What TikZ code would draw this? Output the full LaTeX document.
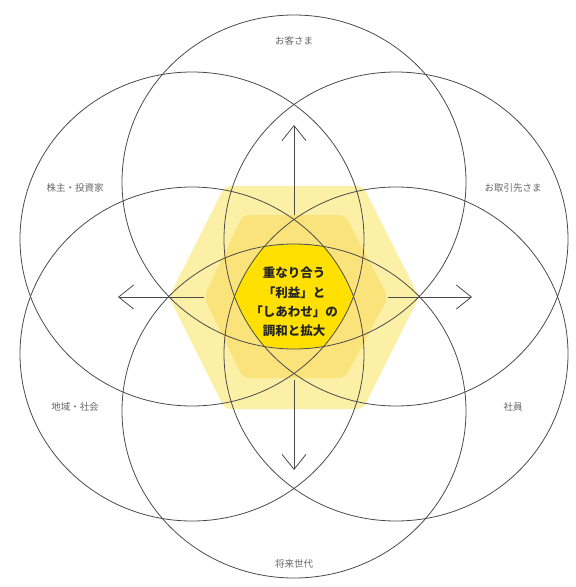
\documentclass[tikz,border=0pt]{standalone}
\usepackage{fontspec}
\setmainfont{Noto Sans CJK JP}
\usepackage{xcolor}
\usetikzlibrary{calc}
\usetikzlibrary{arrows.meta}
\definecolor{hexpale}{HTML}{FCF0A6}
\definecolor{hexmid}{HTML}{F9E37A}
\definecolor{hexcore}{HTML}{FFE000}
\definecolor{ringline}{HTML}{4A4A4A}
\definecolor{labelgray}{HTML}{666666}
\tikzset{
	ring/.style={draw=ringline, line width=0.8pt},
	party/.style={text=labelgray, font=\fontsize{9.5}{11}\selectfont, inner sep=1pt},
	growarrow/.style={draw=ringline, line width=0.8pt, -{Straight Barb[length=15pt, width=24pt, line width=0.8pt]}}
}
\newcommand{\ringpath}[1]{(#1) ellipse [x radius=172, y radius=167]}

\begin{document}
\begin{tikzpicture}[x=1pt, y=-1pt]
			\useasboundingbox (0,0) rectangle (576,587);
			\fill[white] (0,0) rectangle (576,587);

			\coordinate (c) at (294,297);
			\coordinate (rt) at (294,182);
			\coordinate (rb) at (294,411);
			\coordinate (rul) at (192,239);
			\coordinate (rll) at (192,354);
			\coordinate (rur) at (396,239);
			\coordinate (rlr) at (396,354);

			% yellow hexagons
			\fill[hexpale, rounded corners=6pt] (169,297) -- (225,186) -- (363,186) -- (419,297) -- (363,409) -- (225,409) -- cycle;
			\fill[hexmid, rounded corners=6pt] (204,297) -- (243,215) -- (345,215) -- (388,297) -- (345,378) -- (243,378) -- cycle;
			\begin{scope}
				\clip \ringpath{rt}; \clip \ringpath{rb};
				\clip \ringpath{rul}; \clip \ringpath{rll};
				\clip \ringpath{rur}; \clip \ringpath{rlr};
				\fill[hexcore] (150,150) rectangle (440,440);
			\end{scope}

			\foreach \r in {rt,rb,rul,rll,rur,rlr}
				\draw[ring] \ringpath{\r};

			% arrows
			\coordinate (up-s) at (294,215);   \coordinate (up-e) at (294,125);
			\coordinate (dn-s) at (294,380);   \coordinate (dn-e) at (294,470);
			\coordinate (lf-s) at (204,297);   \coordinate (lf-e) at (118,297);
			\coordinate (rg-s) at (388,297);   \coordinate (rg-e) at (472,297);
			\draw[growarrow] (up-s) -- (up-e);
			\draw[growarrow] (dn-s) -- (dn-e);
			\draw[growarrow] (lf-s) -- (lf-e);
			\draw[growarrow] (rg-s) -- (rg-e);

			\node[align=center, font=\fontsize{12.5}{19.3}\selectfont\bfseries, text=black!85] (core) at (294,302)
				{重なり合う\\「利益」と\\「しあわせ」の\\調和と拡大};

			\node[party] (customer) at (294,41) {お客さま};
			\node[party] (investor) at (75,188) {株主・投資家};
			\node[party] (partner) at (513,188) {お取引先さま};
			\node[party] (region) at (75,407) {地域・社会};
			\node[party] (staff) at (513,407) {社員};
			\node[party] (future) at (294,564) {将来世代};
		\end{tikzpicture}
\end{document}
